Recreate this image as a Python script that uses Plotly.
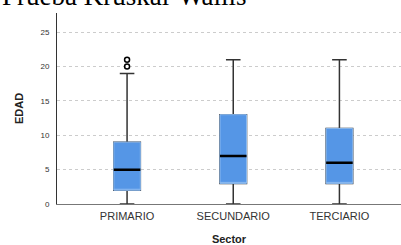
import plotly.graph_objects as go

categories = ["PRIMARIO", "SECUNDARIO", "TERCIARIO"]
lower = [0, 0, 0]
q1 = [2, 3, 3]
median = [5, 7, 6]
q3 = [9, 13, 11]
upper = [19, 21, 21]
outlier_cat = ["PRIMARIO", "PRIMARIO"]
outlier_val = [20, 21]
y_ticks = [0, 5, 10, 15, 20, 25]

BLUE = "#5596e6"
LIGHT = "#8dbbf0"

fig = go.Figure()
# whiskers
fig.add_trace(go.Box(x=categories, q1=q1, median=median, q3=q3,
                     lowerfence=lower, upperfence=upper,
                     width=0.25, whiskerwidth=0.55,
                     line=dict(color="#333333", width=1.5),
                     fillcolor=BLUE, boxpoints=False, hoverinfo="skip",
                     showlegend=False))
# box body
fig.add_trace(go.Box(x=categories, q1=q1, median=q1, q3=q3,
                     lowerfence=q1, upperfence=q3,
                     width=0.25, whiskerwidth=0,
                     line=dict(color=LIGHT, width=1),
                     fillcolor=BLUE, boxpoints=False, hoverinfo="skip",
                     showlegend=False))
# median
fig.add_trace(go.Box(x=categories, q1=median, median=median, q3=median,
                     lowerfence=median, upperfence=median,
                     width=0.25, whiskerwidth=0,
                     line=dict(color="#000000", width=2.5),
                     fillcolor="rgba(0,0,0,0)", boxpoints=False,
                     showlegend=False))
fig.add_trace(go.Scatter(x=outlier_cat, y=outlier_val, mode="markers",
                         marker=dict(symbol="circle-open", size=5,
                                     color="#000000", line=dict(width=1.5)),
                         showlegend=False))

fig.update_layout(
    width=401, height=245, boxmode="overlay",
    margin=dict(l=57, r=0, t=13, b=41, autoexpand=False),
    paper_bgcolor="white", plot_bgcolor="white",
    font=dict(family="Liberation Sans, Arial, sans-serif", color="#333333"),
    annotations=[dict(text="Prueba Kruskal-Wallis", xref="paper", yref="paper",
                      x=0, y=1, xanchor="left", yanchor="bottom",
                      xshift=-57, yshift=0, showarrow=False,
                      font=dict(family="Liberation Serif, Times New Roman, serif",
                                size=27, color="#000000"))],
)
fig.update_xaxes(range=[-0.66, 2.58], showline=True, linecolor="#777777",
                 linewidth=1, showgrid=False, ticks="", automargin=False,
                 ticklabelstandoff=2,
                 tickfont=dict(size=11, color="#333333"),
                 title=dict(text="<b>Sector</b>", font=dict(size=11, color="#222222"),
                            standoff=15))
fig.update_yaxes(range=[0, 27.8], tickvals=y_ticks, showline=True,
                 linecolor="#333333", linewidth=1, automargin=False,
                 showgrid=True, gridcolor="#cccccc", griddash="3px,3px",
                 zeroline=False, ticks="", ticklabelstandoff=5,
                 tickfont=dict(size=8, color="#333333"),
                 title=dict(text="<b>EDAD</b>", font=dict(size=11, color="#222222"),
                            standoff=14))

fig.write_html("out.html",
               config={"displayModeBar": False},
               post_script="document.body.style.margin='0';document.body.style.overflow='hidden';")
